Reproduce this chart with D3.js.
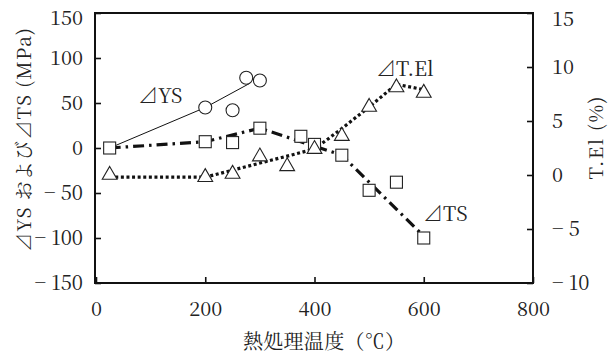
<!DOCTYPE html>
<html><head><meta charset="utf-8">
<script src="https://cdn.jsdelivr.net/npm/d3@7"></script>
<style>body{margin:0;background:#fff} svg{display:block}</style>
</head><body>
<svg id="c" width="610" height="356"></svg>
<script>
// ΔYS (circles) and its fitted line
const ysTemp = [200, 250, 275, 300];
const ysVal = [45, 42, 78, 75];
const ysFitTemp = [25, 200, 282];
const ysFitVal = [0, 45, 72];
// ΔTS (squares) and its fitted line
const tsTemp = [25, 200, 250, 300, 375, 400, 450, 500, 550, 600];
const tsVal = [0, 7, 6, 22, 13, 4, -8, -47, -38, -100];
const tsFitTemp = [25, 200, 300, 450, 600];
const tsFitVal = [0, 7, 22, -8, -98];
// ΔT.El (triangles, right axis) and its fitted line
const elTemp = [25, 200, 250, 300, 350, 400, 450, 500, 550, 600];
const elVal = [0, -0.2, 0.1, 1.7, 0.8, 2.4, 3.6, 6.3, 8.1, 7.6];
const elFitTemp = [25, 200, 400, 450, 500, 550, 600];
const elFitVal = [-0.2, -0.2, 2.4, 4.3, 6.3, 8.4, 7.9];
// ticks
const xTicks = [0, 200, 400, 600, 800];
const yLeftTicks = [150, 100, 50, 0, -50, -100, -150];
const yRightTicks = [15, 10, 5, 0, -5, -10];
const labels = {x: "熱処理温度（℃）", yLeft: "⊿YS および⊿TS (MPa)", yRight: "T.El (%)", ys: "⊿YS", ts: "⊿TS", el: "⊿T.El"};

const zip = (a, b) => a.map((v, i) => [v, b[i]]);
const fmt = v => v < 0 ? "\u2212 " + Math.abs(v) : String(v);
const FONT = '"Noto Serif CJK JP", "Liberation Serif", serif';

const L = 95, R = 533, T = 13, B = 283;
const x = d3.scaleLinear([0, 800], [96, R]);
const yL = d3.scaleLinear([-150, 150], [B, T]);
const yR = d3.scaleLinear([-10, 15], [B, T]);

const svg = d3.select("#c");

function styleAxis(g) {
  g.attr("font-family", null).attr("font-size", null);
  g.select(".domain").remove();
  g.selectAll("line").attr("stroke", "#111").attr("stroke-width", 1.6);
  g.selectAll("text").style("font-family", FONT).style("font-size", "20px").attr("fill", "#222");
}

const gl = svg.append("g").attr("transform", `translate(${L},0)`)
  .call(d3.axisLeft(yL).tickValues(yLeftTicks).tickFormat(fmt).tickSizeInner(-6).tickSizeOuter(0).tickPadding(12))
  .call(styleAxis);
gl.selectAll(".tick text").filter(d => d === 150).attr("dy", "0.55em");
const gr = svg.append("g").attr("transform", `translate(${R},0)`)
  .call(d3.axisRight(yR).tickValues(yRightTicks).tickFormat(fmt).tickSizeInner(-6).tickSizeOuter(0).tickPadding(19))
  .call(styleAxis);
gr.selectAll(".tick text").filter(d => d === 15).attr("dy", "0.62em");
svg.append("g").attr("transform", `translate(0,${B})`)
  .call(d3.axisBottom(x).tickValues(xTicks).tickFormat(fmt).tickSizeInner(-6).tickSizeOuter(0).tickPadding(19))
  .call(styleAxis);

svg.append("rect").attr("x", L).attr("y", T).attr("width", R - L).attr("height", B - T)
  .attr("fill", "none").attr("stroke", "#111").attr("stroke-width", 2);

const lineL = d3.line().x(d => x(d[0])).y(d => yL(d[1]));
const lineR = d3.line().x(d => x(d[0])).y(d => yR(d[1]));

svg.append("path").attr("d", lineL(zip(ysFitTemp, ysFitVal)))
  .attr("fill", "none").attr("stroke", "#111").attr("stroke-width", 1);
svg.append("path").attr("d", lineL(zip(tsFitTemp, tsFitVal)))
  .attr("fill", "none").attr("stroke", "#111").attr("stroke-width", 3.2)
  .attr("stroke-dasharray", "11,5,2.5,5");
svg.append("path").attr("d", lineR(zip(elFitTemp, elFitVal)))
  .attr("fill", "none").attr("stroke", "#111").attr("stroke-width", 3.2)
  .attr("stroke-dasharray", "3,2.6");

const mk = {fill: "#fff", stroke: "#222", sw: 1.1};
svg.append("g").selectAll("circle").data(zip(ysTemp, ysVal)).join("circle")
  .attr("cx", d => x(d[0])).attr("cy", d => yL(d[1])).attr("r", 6.5)
  .attr("fill", mk.fill).attr("stroke", mk.stroke).attr("stroke-width", mk.sw);
svg.append("g").selectAll("rect").data(zip(tsTemp, tsVal)).join("rect")
  .attr("x", d => x(d[0]) - 6).attr("y", d => yL(d[1]) - 6).attr("width", 12).attr("height", 12)
  .attr("fill", mk.fill).attr("stroke", mk.stroke).attr("stroke-width", mk.sw);
const tri = d3.symbol().type(d3.symbolTriangle).size(95);
svg.append("g").selectAll("path").data(zip(elTemp, elVal)).join("path")
  .attr("transform", d => `translate(${x(d[0])},${yR(d[1])})`).attr("d", tri)
  .attr("fill", mk.fill).attr("stroke", mk.stroke).attr("stroke-width", mk.sw);

const txt = (s, size) => svg.append("text").text(s).style("font-family", FONT).style("font-size", size + "px").attr("fill", "#222");
txt(labels.ys, 20).attr("x", 138).attr("y", 103);
txt(labels.el, 20).attr("x", 376).attr("y", 76);
txt(labels.ts, 20).attr("x", 423).attr("y", 221);
txt(labels.x, 20).attr("x", 324).attr("y", 349).attr("text-anchor", "middle")
  .attr("textLength", 162).attr("lengthAdjust", "spacing");
txt(labels.yLeft, 19).attr("transform", "translate(31,140) rotate(-90)").attr("text-anchor", "middle")
  .attr("textLength", 224).attr("lengthAdjust", "spacing");
txt(labels.yRight, 19).attr("transform", "translate(603,138) rotate(-90)").attr("text-anchor", "middle")
  .attr("textLength", 83).attr("lengthAdjust", "spacing");
</script>
</body></html>
